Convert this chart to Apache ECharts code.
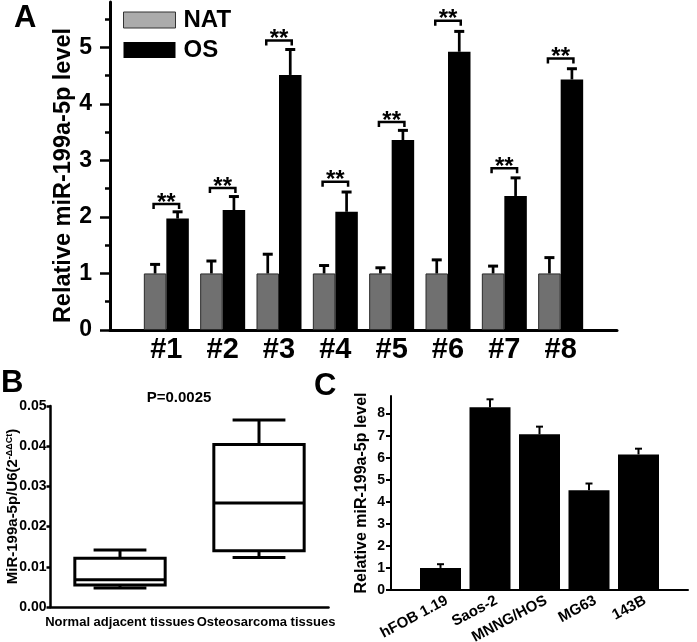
<!DOCTYPE html>
<html><head><meta charset="utf-8">
<script src="https://cdn.jsdelivr.net/npm/echarts@6/dist/echarts.min.js"></script>
<style>html,body{margin:0;padding:0;background:#fff}#c{width:697px;height:642px}</style>
</head><body><div id="c"></div>
<script>
// ---------- Panel A ----------
const groupsA = ['#1', '#2', '#3', '#4', '#5', '#6', '#7', '#8'];
const natMean = [1, 1, 1, 1, 1, 1, 1, 1];
const natUpper = [1.16, 1.22, 1.34, 1.14, 1.10, 1.24, 1.13, 1.28];
const osMean = [1.97, 2.12, 4.51, 2.09, 3.36, 4.92, 2.37, 4.43];
const osUpper = [2.09, 2.36, 4.96, 2.44, 3.53, 5.28, 2.69, 4.62];
const sigLevel = [2.23, 2.51, 5.12, 2.62, 3.68, 5.47, 2.86, 4.80];
const sigLabel = ['**', '**', '**', '**', '**', '**', '**', '**'];
const yTicksA = [0, 1, 2, 3, 4, 5];
const yMinorTicksA = [0.5, 1.5, 2.5, 3.5, 4.5, 5.5];
// ---------- Panel B ----------
const groupsB = ['Normal adjacent tissues', 'Osteosarcoma tissues'];
const boxMin = [0.0047, 0.0123];
const boxQ1 = [0.0055, 0.0140];
const boxMedian = [0.0068, 0.0259];
const boxQ3 = [0.0121, 0.0404];
const boxMax = [0.0142, 0.0465];
const pValueText = 'P=0.0025';
// ---------- Panel C ----------
const cellLines = ['hFOB 1.19', 'Saos-2', 'MNNG/HOS', 'MG63', '143B'];
const cellMean = [1.0, 8.29, 7.06, 4.52, 6.15];
const cellUpper = [1.17, 8.65, 7.41, 4.83, 6.41];
const yTicksC = [0, 1, 2, 3, 4, 5, 6, 7, 8];

const FONT = "'Liberation Sans', Arial, Helvetica, sans-serif";
const pad = arr => ['-'].concat(arr).concat(['-']);
const catA = [''].concat(groupsA).concat(['']);
const catC = [''].concat(cellLines).concat(['']);
const BAR_A = 22.5;
const BAR_C = 41;

function errItem(offset, lw, capHalf, capLw) {
  return function (params, api) {
    const i = api.value(0);
    const base = api.coord([i, api.value(1)]);
    const top = api.coord([i, api.value(2)]);
    const x = base[0] + offset;
    return {
      type: 'group', children: [
        { type: 'line', shape: { x1: x, y1: base[1], x2: x, y2: top[1] }, style: { stroke: '#000', lineWidth: lw } },
        { type: 'line', shape: { x1: x - capHalf, y1: top[1], x2: x + capHalf, y2: top[1] }, style: { stroke: '#000', lineWidth: capLw } }
      ]
    };
  };
}

const chart = echarts.init(document.getElementById('c'), null, { renderer: 'canvas' });
const option = {
  animation: false,
  backgroundColor: '#fff',
  textStyle: { fontFamily: FONT },
  graphic: [
    { type: 'text', left: 14, top: 3, style: { text: 'A', font: 'bold 31px ' + FONT, fill: '#000' } },
    { type: 'text', left: 1, top: 368, style: { text: 'B', font: 'bold 31px ' + FONT, fill: '#000' } },
    { type: 'text', left: 314, top: 371, style: { text: 'C', font: 'bold 31px ' + FONT, fill: '#000' } },
    { type: 'text', x: 179, y: 398, style: { text: pValueText, font: 'bold 15px ' + FONT, fill: '#000', align: 'center', verticalAlign: 'middle' } }
  ],
  legend: {
    orient: 'vertical', left: 123, top: 8, padding: 0, itemWidth: 52, itemHeight: 16, itemGap: 6,
    icon: 'rect',
    textStyle: { fontSize: 24, fontWeight: 'bold', color: '#000', fontFamily: FONT, padding: [0, 0, 0, 3] },
    data: [
      { name: 'NAT', itemStyle: { color: '#ababab', borderColor: '#333', borderWidth: 1 } },
      { name: 'OS', itemStyle: { color: '#000' } }
    ],
    selectedMode: false
  },
  grid: [
    { left: 110, top: 2, width: 507, height: 328, outerBoundsMode: 'none' },
    { left: 50.5, top: 406, width: 278, height: 201, outerBoundsMode: 'none' },
    { left: 391, top: 396, width: 297, height: 194, outerBoundsMode: 'none' }
  ],
  xAxis: [
    {
      gridIndex: 0, type: 'category', data: catA, boundaryGap: false,
      axisLine: { lineStyle: { color: '#000', width: 3 } }, axisTick: { show: false },
      axisLabel: { interval: 0, margin: 5, color: '#000', fontSize: 29, fontWeight: 'bold', fontFamily: FONT },
      splitLine: { show: false }
    },
    {
      gridIndex: 1, type: 'category', data: groupsB, boundaryGap: true,
      axisLine: { lineStyle: { color: '#000', width: 2.5 } },
      axisTick: { alignWithLabel: true, length: 5, lineStyle: { width: 2.5, color: '#000' } },
      axisLabel: {
        interval: 0, margin: 9, color: '#000', fontSize: 13, fontWeight: 'bold', fontFamily: FONT,
        formatter: (v, i) => i === 1 ? '{r|' + v + '}' : v,
        rich: { r: { fontSize: 13, fontWeight: 'bold', color: '#000', fontFamily: FONT, padding: [0, 0, 0, 14] } }
      },
      splitLine: { show: false }
    },
    {
      gridIndex: 2, type: 'category', data: catC, boundaryGap: false,
      axisLine: { lineStyle: { color: '#000', width: 2 } }, axisTick: { show: false },
      axisLabel: { show: false },
      splitLine: { show: false }
    }
  ],
  yAxis: [
    {
      gridIndex: 0, type: 'value', min: 0, max: 5.8, position: 'left',
      name: 'Relative miR-199a-5p level', nameLocation: 'middle', nameRotate: 90, nameGap: 34, nameMoveOverlap: false,
      nameTextStyle: { fontSize: 23.5, fontWeight: 'bold', color: '#000', fontFamily: FONT, padding: [0, 19, 0, 0] },
      axisLine: { show: true, lineStyle: { color: '#000', width: 3 } },
      axisTick: { show: true, length: 10, customValues: yTicksA, lineStyle: { width: 2.5, color: '#000' } },
      axisLabel: { customValues: yTicksA, margin: 18, color: '#000', fontSize: 23, fontWeight: 'bold', fontFamily: FONT },
      splitLine: { show: false }
    },
    {
      gridIndex: 0, type: 'value', min: 0, max: 5.8, position: 'left', offset: 0,
      axisLine: { show: false },
      axisTick: { show: true, length: 5, customValues: yMinorTicksA, lineStyle: { width: 2.5, color: '#000' } },
      axisLabel: { show: false }, splitLine: { show: false }
    },
    {
      gridIndex: 1, type: 'value', min: 0, max: 0.05, interval: 0.01, position: 'left',
      name: '{a|MiR-199a-5p/U6(2}{s|-ΔΔCt}{a|)}', nameLocation: 'middle', nameRotate: 90, nameGap: 30, nameMoveOverlap: false,
      nameTextStyle: {
        rich: {
          a: { fontSize: 15, fontWeight: 'bold', color: '#000', fontFamily: FONT },
          s: { fontSize: 9, fontWeight: 'bold', color: '#000', fontFamily: FONT, verticalAlign: 'top' }
        }
      },
      axisLine: { show: true, lineStyle: { color: '#000', width: 2.5 } },
      axisTick: { show: true, length: 4, lineStyle: { width: 2.5, color: '#000' } },
      axisLabel: { margin: 4, color: '#000', fontSize: 14, fontWeight: 'bold', fontFamily: FONT, formatter: v => v.toFixed(2) },
      splitLine: { show: false }
    },
    {
      gridIndex: 2, type: 'value', min: 0, max: 8.8, position: 'left',
      name: 'Relative miR-199a-5p level', nameLocation: 'middle', nameRotate: 90, nameGap: 21, nameMoveOverlap: false,
      nameTextStyle: { fontSize: 16, fontWeight: 'bold', color: '#000', fontFamily: FONT },
      axisLine: { show: true, lineStyle: { color: '#000', width: 2 } },
      axisTick: { show: true, length: 5, customValues: yTicksC, lineStyle: { width: 2, color: '#000' } },
      axisLabel: { customValues: yTicksC, margin: 6, color: '#000', fontSize: 14, fontWeight: 'bold', fontFamily: FONT },
      splitLine: { show: false }
    }
  ],
  series: [
    {
      name: 'NAT', type: 'bar', xAxisIndex: 0, yAxisIndex: 0, data: pad(natMean),
      barWidth: BAR_A, barGap: '0%',
      itemStyle: { color: '#707070', borderColor: '#2a2a2a', borderWidth: 1 }
    },
    {
      name: 'OS', type: 'bar', xAxisIndex: 0, yAxisIndex: 0, data: pad(osMean),
      barWidth: BAR_A, barGap: '0%',
      itemStyle: { color: '#000' }
    },
    {
      type: 'custom', xAxisIndex: 0, yAxisIndex: 0, z: 5,
      data: natMean.map((v, i) => [i + 1, v, natUpper[i]]),
      encode: { x: 0, y: [1, 2] },
      renderItem: errItem(-BAR_A / 2, 2.7, 5, 3)
    },
    {
      type: 'custom', xAxisIndex: 0, yAxisIndex: 0, z: 5,
      data: osMean.map((v, i) => [i + 1, v, osUpper[i]]),
      encode: { x: 0, y: [1, 2] },
      renderItem: errItem(BAR_A / 2, 2.7, 5, 3)
    },
    {
      type: 'custom', xAxisIndex: 0, yAxisIndex: 0, z: 5,
      data: sigLevel.map((v, i) => [i + 1, v]),
      encode: { x: 0, y: 1 },
      renderItem: function (params, api) {
        const i = api.value(0);
        const p = api.coord([i, api.value(1)]);
        const half = BAR_A / 2 + 1.5;
        const leg = 5;
        return {
          type: 'group', children: [
            { type: 'polyline', shape: { points: [[p[0] - half, p[1] + leg], [p[0] - half, p[1]], [p[0] + half, p[1]], [p[0] + half, p[1] + leg]] },
              style: { stroke: '#000', lineWidth: 2.5, fill: 'none' } },
            { type: 'text', x: p[0], y: p[1] - 1, style: { text: sigLabel[params.dataIndex], fontSize: 24, fontWeight: 'bold', fontFamily: FONT, fill: '#000', align: 'center', verticalAlign: 'middle' } }
          ]
        };
      }
    },
    {
      type: 'custom', xAxisIndex: 1, yAxisIndex: 2, z: 5,
      data: boxMin.map((v, i) => [i, v, boxQ1[i], boxMedian[i], boxQ3[i], boxMax[i]]),
      encode: { x: 0, y: [1, 5] },
      renderItem: function (params, api) {
        const i = api.value(0);
        const band = api.size([1, 0])[0];
        const bw = band * 0.65, cap = band * 0.38;
        const pMin = api.coord([i, api.value(1)]);
        const yQ1 = api.coord([i, api.value(2)])[1];
        const yMed = api.coord([i, api.value(3)])[1];
        const yQ3 = api.coord([i, api.value(4)])[1];
        const yMax = api.coord([i, api.value(5)])[1];
        const cx = pMin[0], yMin = pMin[1];
        const st = { stroke: '#000', lineWidth: 3, fill: 'none' };
        return {
          type: 'group', children: [
            { type: 'line', shape: { x1: cx, y1: yQ3, x2: cx, y2: yMax }, style: st },
            { type: 'line', shape: { x1: cx, y1: yQ1, x2: cx, y2: yMin }, style: st },
            { type: 'line', shape: { x1: cx - cap / 2, y1: yMax, x2: cx + cap / 2, y2: yMax }, style: st },
            { type: 'line', shape: { x1: cx - cap / 2, y1: yMin, x2: cx + cap / 2, y2: yMin }, style: st },
            { type: 'rect', shape: { x: cx - bw / 2, y: yQ3, width: bw, height: yQ1 - yQ3 }, style: { stroke: '#000', lineWidth: 3, fill: '#fff' } },
            { type: 'line', shape: { x1: cx - bw / 2, y1: yMed, x2: cx + bw / 2, y2: yMed }, style: st }
          ]
        };
      }
    },
    {
      name: 'cells', type: 'bar', xAxisIndex: 2, yAxisIndex: 3, data: pad(cellMean),
      barWidth: BAR_C, itemStyle: { color: '#000' }
    },
    {
      type: 'custom', xAxisIndex: 2, yAxisIndex: 3, z: 5,
      data: cellMean.map((v, i) => [i + 1, v, cellUpper[i]]),
      encode: { x: 0, y: [1, 2] },
      renderItem: errItem(0, 2, 3.5, 2)
    },
    {
      // rotated category labels of panel C
      type: 'custom', xAxisIndex: 2, yAxisIndex: 3, z: 5, clip: false, silent: true,
      data: cellLines.map((name, i) => [i + 1, 0]),
      encode: { x: 0, y: 1 },
      renderItem: function (params, api) {
        const p = api.coord([api.value(0), 0]);
        return {
          type: 'text', x: p[0] + 3, y: p[1] + 3, rotation: 28 * Math.PI / 180,
          style: { text: cellLines[params.dataIndex], fontSize: 15, fontWeight: 'bold', fontFamily: FONT, fill: '#000', align: 'right', verticalAlign: 'top' }
        };
      }
    }
  ]
};
chart.setOption(option);
</script>
</body></html>
